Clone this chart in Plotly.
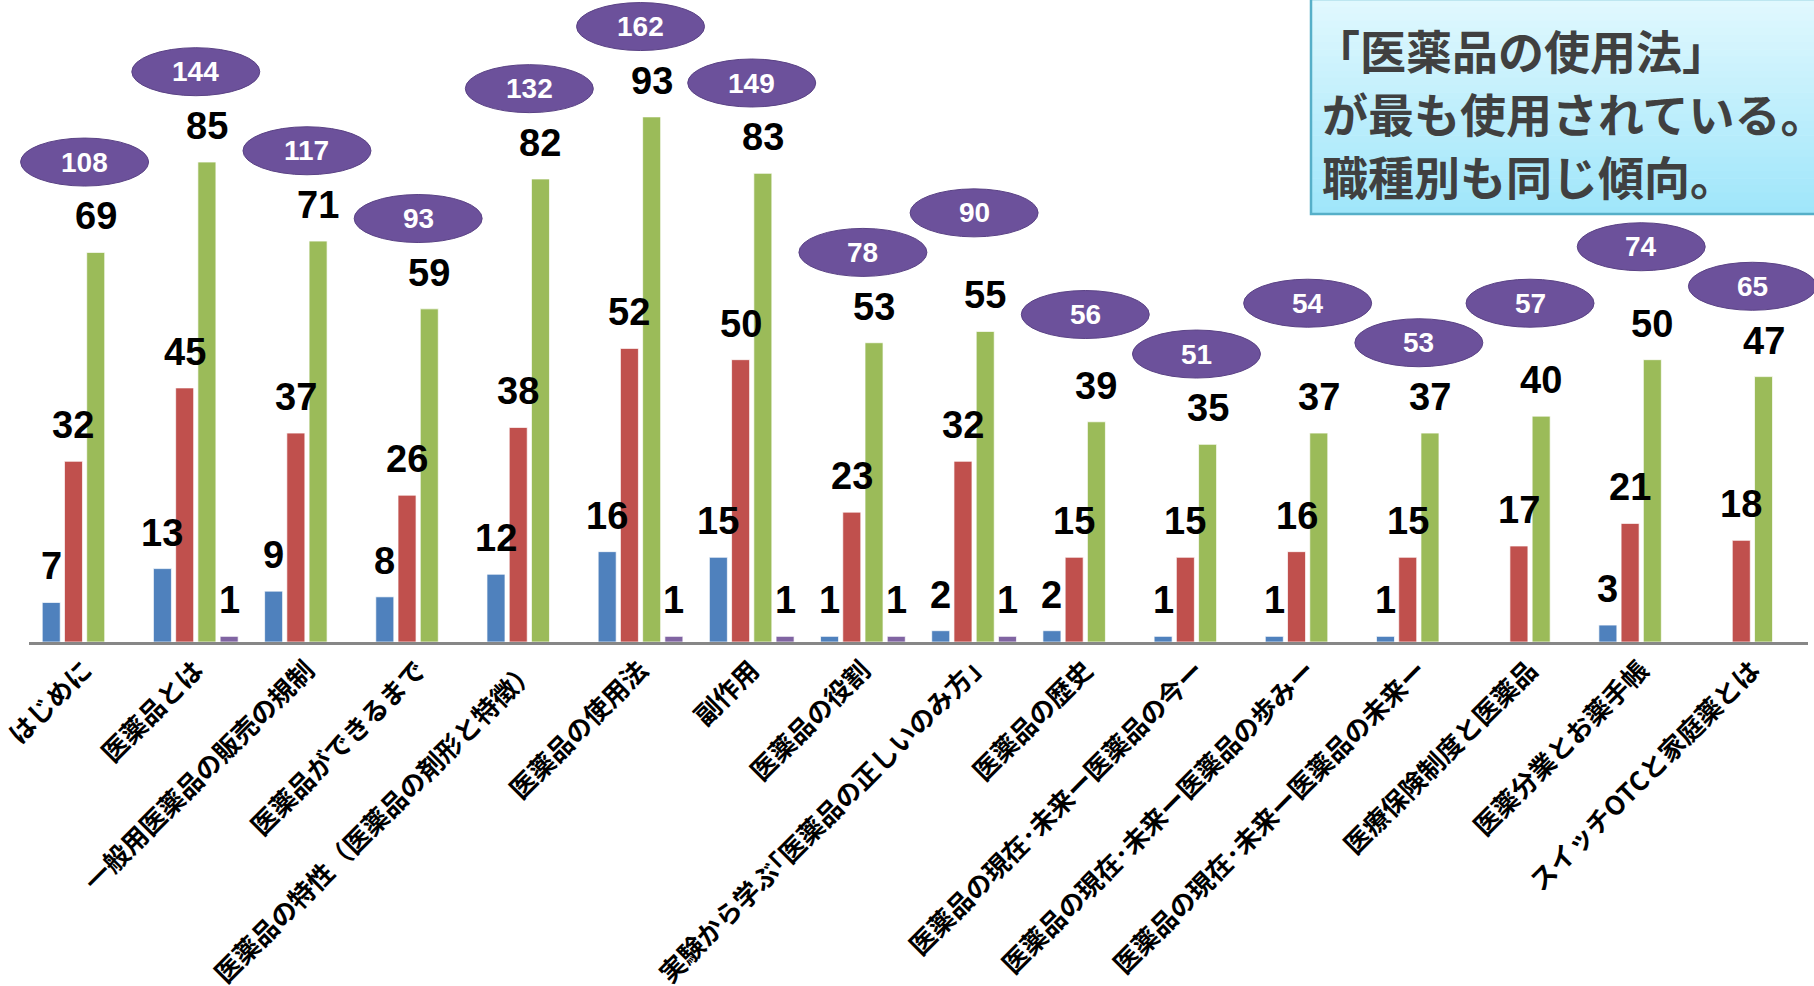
import plotly.graph_objects as go

# 講義テーマ別の使用数（職種別）
categories = [
    'はじめに',
    '医薬品とは',
    '一般用医薬品の販売の規制',
    '医薬品ができるまで',
    '医薬品の特性（医薬品の剤形と特徴）',
    '医薬品の使用法',
    '副作用',
    '医薬品の役割',
    '実験から学ぶ｢医薬品の正しいのみ方｣',
    '医薬品の歴史',
    '医薬品の現在･未来ー医薬品の今ー',
    '医薬品の現在･未来ー医薬品の歩みー',
    '医薬品の現在･未来ー医薬品の未来ー',
    '医療保険制度と医薬品',
    '医薬分業とお薬手帳',
    'スイッチOTCと家庭薬とは',
]
series1 = [7, 13, 9, 8, 12, 16, 15, 1, 2, 2, 1, 1, 1, 0, 3, 0]
series2 = [32, 45, 37, 26, 38, 52, 50, 23, 32, 15, 15, 16, 15, 17, 21, 18]
series3 = [69, 85, 71, 59, 82, 93, 83, 53, 55, 39, 35, 37, 37, 40, 50, 47]
series4 = [0, 1, 0, 0, 0, 1, 1, 1, 1, 0, 0, 0, 0, 0, 0, 0]
series_names = ['系列1', '系列2', '系列3', '系列4']

note_lines = ['「医薬品の使用法」', 'が最も使用されている。', '職種別も同じ傾向。']

colors = ['#4F81BD', '#C0504D', '#9BBB59', '#8064A2']

W, H = 1814, 986
ML, MR, MT, MB = 29, 6, 0, 344
YMAX = 113.7
BARGAP = 0.2
n = len(categories)
plot_w = W - ML - MR
plot_h = H - MT - MB
slot = plot_w / n * (1 - BARGAP) / 4

all_series = [series1, series2, series3, series4]
totals = [sum(v) for v in zip(*all_series)]
peaks = [max(v) for v in zip(*all_series)]

fig = go.Figure()
for name, vals, col in zip(series_names, all_series, colors):
    fig.add_trace(go.Bar(
        x=categories, y=vals, name=name,
        marker=dict(color=col, line=dict(color='rgba(255,255,255,0.7)', width=1)),
        hoverinfo='skip',
    ))

annotations = []
# 値ラベル（0 は表示しない）
for j, vals in enumerate(all_series):
    for i, v in enumerate(vals):
        if v == 0:
            continue
        annotations.append(dict(
            x=categories[i], y=v, xref='x', yref='y',
            xshift=(j - 1.5) * slot, yshift=13,
            yanchor='bottom', xanchor='center',
            text=str(v), showarrow=False,
            font=dict(family='Liberation Sans, Arial', size=38, color='black', weight='bold'),
        ))

# 合計の楕円（重なる場合は合計の大きい方を上へずらす）
bubble_y = []
for i in range(n):
    y = peaks[i] + 16
    if i and abs(y - bubble_y[-1]) < 6:
        if totals[i] > totals[i - 1]:
            y = bubble_y[-1] + 7
        else:
            bubble_y[-1] = y + 7
    bubble_y.append(y)

shapes = []
for i in range(n):
    xa = (i + 0.5) / n
    ya = bubble_y[i] / YMAX
    shapes.append(dict(
        type='circle', xref='paper', yref='paper',
        xsizemode='pixel', ysizemode='pixel', xanchor=xa, yanchor=ya,
        x0=-64, x1=64, y0=-24, y1=24,
        fillcolor='#6C519B', line=dict(color='#5A4285', width=1),
    ))
    annotations.append(dict(
        x=xa, y=ya, xref='paper', yref='paper', text=str(totals[i]),
        showarrow=False, xanchor='center', yanchor='middle',
        font=dict(family='Liberation Sans, Arial', size=28, color='white', weight='bold'),
    ))

# 右上のコメント枠（縦グラデーション）
bx0 = (1311 - ML) / plot_w
bx1 = (W + 4 - ML) / plot_w
by1 = (plot_h + 1) / plot_h
by0 = (plot_h - 214) / plot_h
steps = 30
top_rgb = (224, 248, 254)
bot_rgb = (160, 230, 250)
for k in range(steps):
    t = k / (steps - 1)
    c = tuple(round(a + (b - a) * t) for a, b in zip(top_rgb, bot_rgb))
    shapes.append(dict(
        type='rect', xref='paper', yref='paper',
        x0=bx0, x1=bx1,
        y0=by1 - (by1 - by0) * (k + 1) / steps - 0.001,
        y1=by1 - (by1 - by0) * k / steps,
        fillcolor='rgb(%d,%d,%d)' % c, line=dict(width=0),
    ))
shapes.append(dict(
    type='rect', xref='paper', yref='paper', x0=bx0, x1=bx1, y0=by0, y1=by1,
    fillcolor='rgba(0,0,0,0)', line=dict(color='#56AFC8', width=2.5),
))
for k, line in enumerate(note_lines):
    annotations.append(dict(
        x=(1320 - ML) / plot_w, y=(plot_h - (49 + 63 * k)) / plot_h,
        xshift=-8 if line.startswith('「') else 0,
        xref='paper', yref='paper', text=line, showarrow=False,
        xanchor='left', yanchor='middle',
        font=dict(family='Noto Sans CJK JP', size=46, color='#404040', weight='bold'),
    ))

fig.update_layout(
    width=W, height=H,
    margin=dict(l=ML, r=MR, t=MT, b=MB),
    barmode='group', bargap=BARGAP, bargroupgap=0.19,
    plot_bgcolor='white', paper_bgcolor='white',
    showlegend=False,
    xaxis=dict(
        showline=True, linecolor='#878787', linewidth=2.5,
        ticks='', showgrid=False, tickangle=-45, automargin=False,
        tickfont=dict(family='Noto Sans CJK JP', size=26, color='black', weight='bold'),
    ),
    yaxis=dict(range=[0, YMAX], visible=False, showgrid=False, automargin=False),
    shapes=shapes,
    annotations=annotations,
)

fig.write_html('out.html', config={'displayModeBar': False},
               post_script="document.body.style.margin='0';")
